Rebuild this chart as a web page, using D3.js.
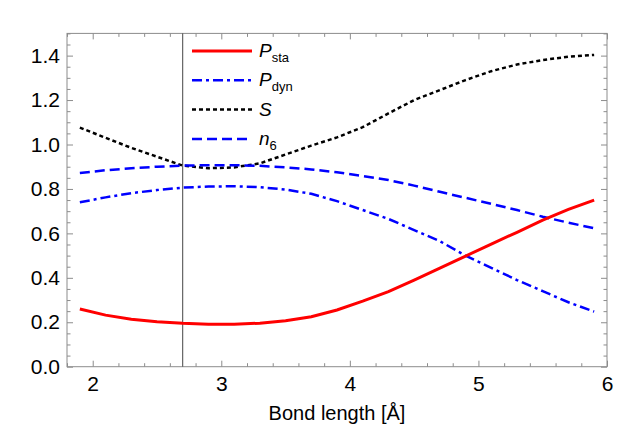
<!DOCTYPE html>
<meta charset="utf-8">
<script src="https://d3js.org/d3.v7.min.js"></script>
<style>
    body { margin: 0; background: #fff; }
    text { font-family: "Liberation Sans", Arial, sans-serif; }
</style>
<div id="chart"></div>
<script>
    // bond length grid [Å]
    var bond = [1.9, 2.1, 2.3, 2.5, 2.7, 2.9, 3.1, 3.3, 3.5, 3.7, 3.9, 4.1, 4.3, 4.5, 4.7, 4.9, 5.1, 5.3, 5.5, 5.7, 5.9];

    var pSta = [0.26, 0.232, 0.214, 0.202, 0.195, 0.191, 0.191, 0.196, 0.207, 0.225, 0.255, 0.295, 0.338, 0.39, 0.444, 0.498, 0.552, 0.605, 0.66, 0.708, 0.75];
    var pDyn = [0.74, 0.762, 0.781, 0.795, 0.806, 0.811, 0.812, 0.808, 0.797, 0.778, 0.745, 0.705, 0.665, 0.615, 0.565, 0.50, 0.445, 0.39, 0.34, 0.29, 0.248];
    var sVal = [1.076, 1.03, 0.985, 0.945, 0.905, 0.893, 0.897, 0.915, 0.955, 0.995, 1.032, 1.078, 1.14, 1.2, 1.245, 1.29, 1.33, 1.36, 1.38, 1.395, 1.403];
    var n6 = [0.872, 0.884, 0.893, 0.900, 0.905, 0.907, 0.907, 0.904, 0.897, 0.888, 0.875, 0.858, 0.84, 0.815, 0.787, 0.76, 0.733, 0.705, 0.675, 0.648, 0.623];

    var xTicks = [2, 3, 4, 5, 6];
    var yTicks = [0, 0.2, 0.4, 0.6, 0.8, 1.0, 1.2, 1.4];
    var markerX = 2.7;

    var width = 642, height = 434;
    var plotL = 67, plotR = 607, plotT = 33.4, plotB = 366.7;

    var xScale = d3.scaleLinear().domain([1.8, 6]).range([plotL, plotR]);
    var yScale = d3.scaleLinear().domain([0, 1.5]).range([plotB, plotT]);

    var svg = d3.select("#chart").append("svg")
        .attr("width", width)
        .attr("height", height);

    var frameColor = "#8c8c8c";

    // minor ticks
    var xMinor = d3.range(1.8, 6.001, 0.2).filter(function (v) { return Math.abs(v - Math.round(v)) > 1e-6; });
    var yMinor = d3.range(0, 1.5001, 0.05).filter(function (v) { return Math.abs(v * 5 - Math.round(v * 5)) > 1e-6; });

    function styleAxis(g) {
        g.select(".domain").remove();
        g.selectAll(".tick line").attr("stroke", frameColor);
        g.selectAll(".tick text").attr("fill", "#000").style("font-size", "21px");
    }

    svg.append("g").attr("transform", `translate(0,${plotB})`)
        .call(d3.axisBottom(xScale).tickValues(xTicks).tickFormat(d3.format("d")).tickSize(-6).tickPadding(9))
        .call(styleAxis);
    svg.append("g").attr("transform", `translate(0,${plotB})`)
        .call(d3.axisBottom(xScale).tickValues(xMinor).tickFormat("").tickSize(-3.5))
        .call(styleAxis);
    svg.append("g").attr("transform", `translate(0,${plotT})`)
        .call(d3.axisTop(xScale).tickValues(xTicks).tickFormat("").tickSize(-6))
        .call(styleAxis);
    svg.append("g").attr("transform", `translate(0,${plotT})`)
        .call(d3.axisTop(xScale).tickValues(xMinor).tickFormat("").tickSize(-3.5))
        .call(styleAxis);

    svg.append("g").attr("transform", `translate(${plotL},0)`)
        .call(d3.axisLeft(yScale).tickValues(yTicks).tickFormat(d3.format(".1f")).tickSize(-6).tickPadding(7))
        .call(styleAxis);
    svg.append("g").attr("transform", `translate(${plotL},0)`)
        .call(d3.axisLeft(yScale).tickValues(yMinor).tickFormat("").tickSize(-3.5))
        .call(styleAxis);
    svg.append("g").attr("transform", `translate(${plotR},0)`)
        .call(d3.axisRight(yScale).tickValues(yTicks).tickFormat("").tickSize(-6))
        .call(styleAxis);
    svg.append("g").attr("transform", `translate(${plotR},0)`)
        .call(d3.axisRight(yScale).tickValues(yMinor).tickFormat("").tickSize(-3.5))
        .call(styleAxis);

    // frame
    svg.append("rect")
        .attr("x", plotL).attr("y", plotT)
        .attr("width", plotR - plotL).attr("height", plotB - plotT)
        .attr("fill", "none").attr("stroke", frameColor).attr("stroke-width", 1);

    // vertical marker
    svg.append("line")
        .attr("x1", xScale(markerX)).attr("x2", xScale(markerX))
        .attr("y1", yScale(0)).attr("y2", yScale(1.5))
        .attr("stroke", "#444").attr("stroke-width", 1);

    var series = [
        { name: "P", sub: "sta", values: pSta, color: "#ff0000", width: 3, dash: null },
        { name: "P", sub: "dyn", values: pDyn, color: "#0000ff", width: 2.5, dash: "10,4,3,4" },
        { name: "S", sub: null, values: sVal, color: "#000000", width: 2.5, dash: "4,3" },
        { name: "n", sub: "6", values: n6, color: "#0000ff", width: 2.5, dash: "10,5" }
    ];

    var line = d3.line()
        .x(function (d, i) { return xScale(bond[i]); })
        .y(function (d) { return yScale(d); });

    // draw order: S under the blue lines
    [2, 3, 1, 0].forEach(function (k) {
        var s = series[k];
        svg.append("path")
            .datum(s.values)
            .attr("fill", "none")
            .attr("stroke", s.color)
            .attr("stroke-width", s.width)
            .attr("stroke-dasharray", s.dash)
            .attr("d", line);
    });

    // legend
    var legend = svg.append("g");
    series.forEach(function (s, i) {
        var y = 51 + i * 29.3;
        legend.append("line")
            .attr("x1", 192).attr("x2", 252)
            .attr("y1", y).attr("y2", y)
            .attr("stroke", s.color)
            .attr("stroke-width", s.width)
            .attr("stroke-dasharray", s.dash);
        var t = legend.append("text")
            .attr("x", 259).attr("y", y + 6)
            .style("font-size", "19px");
        t.append("tspan").style("font-style", "italic").text(s.name);
        if (s.sub) {
            t.append("tspan").attr("dy", 5).style("font-size", "13px").text(s.sub);
        }
    });

    svg.append("text")
        .attr("x", (plotL + plotR) / 2)
        .attr("y", 420)
        .attr("text-anchor", "middle")
        .style("font-size", "20px")
        .text("Bond length [Å]");
</script>
